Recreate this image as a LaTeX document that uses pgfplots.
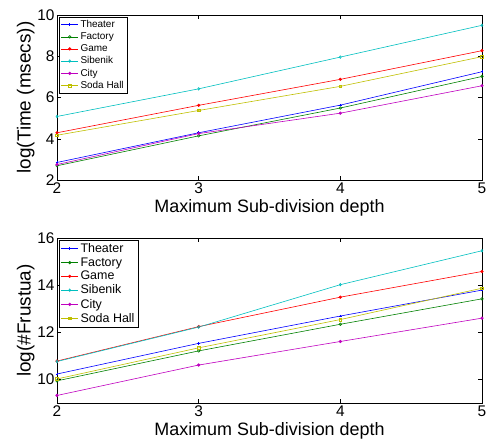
\documentclass[border=0pt]{standalone}
\usepackage{pgfplots}
\pgfplotsset{compat=1.18}
\usepackage{fontspec}
\setmainfont{Liberation Sans}
\definecolor{mb}{rgb}{0,0,1}
\definecolor{mg}{rgb}{0,0.5,0}
\definecolor{mr}{rgb}{1,0,0}
\definecolor{mc}{rgb}{0,0.75,0.75}
\definecolor{mm}{rgb}{0.75,0,0.75}
\definecolor{my}{rgb}{0.75,0.75,0}
\pgfplotsset{
  mystyle/.style={
    scale only axis, width=425bp, height=165bp,
    xmin=2, xmax=5, xtick={2,3,4,5},
    tick align=inside, major tick length=4bp,
    tick style={black, line width=0.4pt},
    axis line style={line width=0.6pt},
    /pgf/number format/assume math mode=true,
    tick label style={font=\fontsize{15.5}{17}\selectfont},
    xticklabel style={yshift=1bp},
    yticklabel style={xshift=1bp},
    xlabel style={font=\fontsize{18}{20}\selectfont, yshift=1bp},
    ylabel style={font=\fontsize{19}{21}\selectfont, yshift=-4bp},
    xlabel={Maximum Sub-division depth},
    every axis plot/.append style={line width=0.6pt, mark size=1.3pt, mark options={solid}},
    legend cell align=left,
    legend image code/.code={\draw[mark repeat=2,mark phase=2] plot coordinates {(0cm,0cm)(0.3cm,0cm)(0.6cm,0cm)};},
  }
}
\begin{document}
\begin{tikzpicture}
\useasboundingbox (-57bp,15bp) rectangle (429bp,-425bp);
\begin{axis}[mystyle, at={(0,0)}, anchor=north west,
  ymin=2, ymax=10, ytick={2,4,6,8,10},
  ylabel={log(Time (msecs))},
  legend style={at={(0.005,0.99)}, anchor=north west, draw=black, line width=0.6pt,
    font=\fontsize{10}{11}\selectfont, row sep=-0.4pt, inner sep=1.5pt}]
\addplot[mb, mark=+] coordinates {(2,2.85) (3,4.29) (4,5.63) (5,7.25)};
\addplot[mg, mark=o] coordinates {(2,2.69) (3,4.14) (4,5.49) (5,7.02)};
\addplot[mr, mark=*] coordinates {(2,4.29) (3,5.62) (4,6.88) (5,8.27)};
\addplot[mc, mark=diamond] coordinates {(2,5.08) (3,6.42) (4,7.96) (5,9.50)};
\addplot[mm, mark=*] coordinates {(2,2.75) (3,4.25) (4,5.24) (5,6.57)};
\addplot[my, mark=square] coordinates {(2,4.17) (3,5.37) (4,6.54) (5,7.98)};
\legend{Theater,Factory,Game,Sibenik,City,Soda Hall}
\end{axis}
\begin{axis}[mystyle, at={(0,-223bp)}, anchor=north west,
  ymin=9, ymax=16, ytick={10,12,14,16},
  ylabel={log(\#Frustua)},
  legend style={at={(0.005,0.99)}, anchor=north west, draw=black, line width=0.6pt,
    font=\fontsize{12.5}{13.5}\selectfont, row sep=-0.4pt, inner sep=1.5pt}]
\addplot[mb, mark=+] coordinates {(2,10.23) (3,11.53) (4,12.69) (5,13.79)};
\addplot[mg, mark=o] coordinates {(2,9.94) (3,11.21) (4,12.34) (5,13.42)};
\addplot[mr, mark=*] coordinates {(2,10.78) (3,12.24) (4,13.49) (5,14.58)};
\addplot[mc, mark=diamond] coordinates {(2,10.76) (3,12.22) (4,14.02) (5,15.46)};
\addplot[mm, mark=*] coordinates {(2,9.32) (3,10.61) (4,11.61) (5,12.60)};
\addplot[my, mark=square] coordinates {(2,10.02) (3,11.34) (4,12.54) (5,13.87)};
\legend{Theater,Factory,Game,Sibenik,City,Soda Hall}
\end{axis}
\end{tikzpicture}
\end{document}
